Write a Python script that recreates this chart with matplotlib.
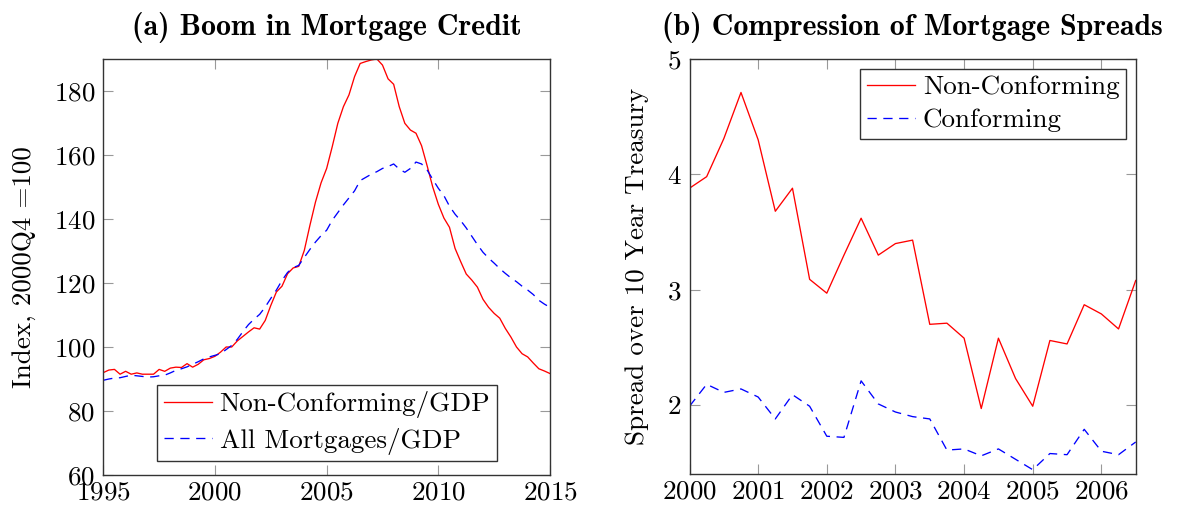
import matplotlib
matplotlib.use("Agg")
import matplotlib.pyplot as plt
import numpy as np

# ---------------- data ----------------
credit_start, credit_end = 1995, 2015
nonconf_gdp = [
    92.0, 92.8, 93.0, 91.5, 92.4, 91.5, 91.9, 91.5, 91.5, 91.5,
    93.0, 92.4, 93.4, 93.7, 93.6, 94.8, 93.7, 94.6, 96.0, 96.4,
    97.1, 98.4, 100.0, 100.0, 101.9, 103.3, 104.7, 106.0, 105.6, 108.3,
    113.0, 117.2, 119.0, 122.9, 124.7, 125.2, 130.2, 138.0, 145.3, 151.3,
    155.8, 162.6, 169.9, 175.1, 178.8, 184.5, 188.6, 189.2, 189.7, 190.0,
    188.1, 183.8, 182.1, 175.1, 169.9, 167.8, 166.8, 162.9, 156.6, 150.0,
    144.6, 140.3, 137.4, 130.8, 126.7, 122.8, 120.9, 118.7, 114.9, 112.4,
    110.5, 109.0, 105.8, 103.1, 100.0, 97.9, 96.9, 95.0, 93.2, 92.5,
    91.7,
]
all_mort_gdp = [
    89.6, 90.0, 90.3, 90.4, 90.8, 91.2, 91.0, 90.8, 90.6, 90.7,
    91.0, 91.2, 91.9, 92.7, 93.2, 93.8, 94.6, 95.4, 96.3, 96.9,
    97.4, 97.9, 99.2, 100.5, 102.4, 104.8, 107.0, 108.7, 110.2, 112.5,
    115.2, 117.8, 120.8, 123.3, 124.8, 125.5, 128.0, 130.5, 132.8, 134.8,
    136.5, 139.6, 142.0, 144.4, 146.6, 148.8, 152.0, 153.0, 154.0, 154.8,
    155.8, 156.4, 157.2, 155.6, 154.6, 155.8, 157.8, 157.2, 155.3, 152.4,
    149.6, 147.3, 144.0, 141.5, 139.5, 137.2, 134.6, 132.0, 129.6, 127.8,
    126.2, 124.5, 123.0, 121.6, 120.4, 119.0, 117.8, 116.4, 114.6, 113.4,
    112.4,
]

spread_start, spread_end = 2000, 2006.5
nonconf_spread = [
    3.88, 3.98, 4.31, 4.71, 4.30, 3.68, 3.88, 3.09, 2.97, 3.30,
    3.62, 3.30, 3.40, 3.43, 2.70, 2.71, 2.58, 1.97, 2.58, 2.23,
    1.99, 2.56, 2.53, 2.87, 2.79, 2.66, 3.08,
]
conf_spread = [
    1.99, 2.18, 2.11, 2.14, 2.07, 1.88, 2.09, 1.99, 1.73, 1.72,
    2.21, 2.01, 1.94, 1.90, 1.88, 1.61, 1.62, 1.56, 1.62, 1.53,
    1.44, 1.58, 1.57, 1.79, 1.60, 1.57, 1.68,
]

credit_xticks = [1995, 2000, 2005, 2010, 2015]
credit_yticks = [60, 80, 100, 120, 140, 160, 180]
spread_xticks = [2000, 2001, 2002, 2003, 2004, 2005, 2006]
spread_yticks = [2, 3, 4, 5]

titles = ["(a) Boom in Mortgage Credit", "(b) Compression of Mortgage Spreads"]
ylabels = ["Index, 2000Q4 =100", "Spread over 10 Year Treasury"]
legend_a = ["Non-Conforming/GDP", "All Mortgages/GDP"]
legend_b = ["Non-Conforming", "Conforming"]

# ---------------- style ----------------
plt.rcParams["font.family"] = ["cmr10", "DejaVu Serif"]
plt.rcParams["axes.formatter.use_mathtext"] = True
plt.rcParams["mathtext.fontset"] = "cm"
FS = 19.5
TFS = 21.5

RED = "#ff0000"
BLUE = "#0000ff"
DASH = (0, (7, 5))

fig = plt.figure(figsize=(11.77, 5.08), dpi=100)
axA = fig.add_axes([103.3 / 1177, 33 / 508, 446.7 / 1177, 416 / 508])
axB = fig.add_axes([689.5 / 1177, 33.7 / 508, 446.2 / 1177, 415.3 / 508])

t_credit = np.linspace(credit_start, credit_end, len(nonconf_gdp))
t_spread = np.linspace(spread_start, spread_end, len(nonconf_spread))

axA.plot(t_credit, nonconf_gdp, color=RED, lw=0.95, label=legend_a[0])
axA.plot(t_credit, all_mort_gdp, color=BLUE, lw=0.95, linestyle=DASH, label=legend_a[1])
axA.set_xlim(1995, 2015)
axA.set_ylim(60, 190)
axA.set_xticks(credit_xticks)
axA.set_yticks(credit_yticks)

axB.plot(t_spread, nonconf_spread, color=RED, lw=0.95, label=legend_b[0])
axB.plot(t_spread, conf_spread, color=BLUE, lw=0.95, linestyle=DASH, label=legend_b[1])
axB.set_xlim(2000, 2006.5)
axB.set_ylim(1.4, 5)
axB.set_xticks(spread_xticks)
axB.set_yticks(spread_yticks)

for ax, title, yl in zip([axA, axB], titles, ylabels):
    ax.tick_params(direction="in", length=7.5, width=0.8, color="#999999",
                   top=True, right=True, labelsize=FS, pad=6)
    ax.tick_params(axis="x", pad=4)
    for sp in ax.spines.values():
        sp.set_color("#333333")
        sp.set_linewidth(1.0)
    ax.set_title(title, fontsize=TFS, fontfamily="cmb10", pad=17)
    ax.set_ylabel(yl, fontsize=FS)

axA.yaxis.set_label_coords(-0.15, 0.5)
axB.yaxis.set_label_coords(-0.09, 0.5)

common = dict(fontsize=FS, frameon=True, fancybox=False, edgecolor="#333333",
              framealpha=1, handlelength=1.75, handletextpad=0.3, borderpad=0.25,
              labelspacing=0.34, borderaxespad=0)
legA = axA.legend(loc="lower left", bbox_to_anchor=(0.121, 0.033), **common)
legA.get_frame().set_linewidth(1.0)
legB = axB.legend(loc="upper right", bbox_to_anchor=(0.9785, 0.977), **common)
legB.get_frame().set_linewidth(1.0)

fig.savefig("out.png", dpi=100)
